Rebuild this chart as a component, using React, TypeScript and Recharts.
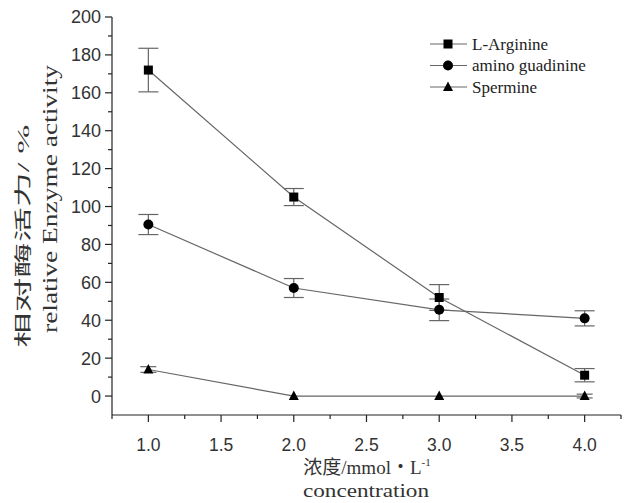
import { LineChart, Line, XAxis, YAxis, ErrorBar, Legend } from 'recharts'

// 浓度 (mmol/L) 和三组相对酶活力 (%)
const concentrations = [1.0, 2.0, 3.0, 4.0]
const arginine = [172, 105, 52, 11]
const arginineErr = [11.5, 4.5, 6.8, 3.5]
const guadinine = [90.5, 57, 45.5, 41]
const guadinineErr = [5.3, 5, 5.7, 4]
const spermine = [14, 0, 0, 0]
const spermineErr = [1.5, 0, 0, 1]

const xTicks = [0.75, 1, 1.25, 1.5, 1.75, 2, 2.25, 2.5, 2.75, 3, 3.25, 3.5, 3.75, 4, 4.25]
const yTicks = [0, 10, 20, 30, 40, 50, 60, 70, 80, 90, 100, 110, 120, 130, 140, 150, 160, 170, 180, 190, 200]

const seriesNames = ['L-Arginine', 'amino guadinine', 'Spermine']

const data = concentrations.map((c, i) => ({
  c,
  arg: arginine[i],
  argErr: arginineErr[i],
  gua: guadinine[i],
  guaErr: guadinineErr[i],
  spe: spermine[i],
  speErr: spermineErr[i],
}))

const AXIS = '#222'
const LINE = '#666'
const SANS = '"Liberation Sans", Arial, sans-serif'
const SERIF = '"Liberation Serif", "Times New Roman", "Noto Sans CJK SC", serif'
const TICK = 7
const MINOR = 4
const MARGIN = 4

function Marker({ cx, cy, kind }: { cx: number; cy: number; kind: string }) {
  if (kind === 'square') return <rect x={cx - 4.5} y={cy - 4.5} width={9} height={9} fill="#000" />
  if (kind === 'circle') return <circle cx={cx} cy={cy} r={5} fill="#000" />
  return <polygon points={`${cx},${cy - 5.5} ${cx + 5},${cy + 4} ${cx - 5},${cy + 4}`} fill="#000" />
}

const dotOf = (kind: string) => (p: any) =>
  p.cx == null ? <g key={p.key} /> : <Marker key={p.key} cx={p.cx} cy={p.cy} kind={kind} />

function XTick(props: any) {
  const { x, y, payload } = props
  const v = payload.value
  const axisY = y - TICK - MARGIN
  const major = v >= 1 && v <= 4 && Math.abs(v * 2 - Math.round(v * 2)) < 1e-6
  return (
    <g>
      <line x1={x} x2={x} y1={axisY} y2={axisY + (major ? TICK : MINOR)} stroke={AXIS} strokeWidth={1.2} />
      {major && (
        <text x={x} y={axisY + 36} textAnchor="middle" fontFamily={SANS} fontSize={17.5} fill="#333">
          {v.toFixed(1)}
        </text>
      )}
    </g>
  )
}

function YTick(props: any) {
  const { x, y, payload } = props
  const v = payload.value
  const axisX = x + TICK + MARGIN
  const major = v % 20 === 0
  return (
    <g>
      <line x1={axisX} x2={axisX - (major ? TICK : MINOR)} y1={y} y2={y} stroke={AXIS} strokeWidth={1.2} />
      {major && (
        <text x={axisX - 11} y={y} dy="0.36em" textAnchor="end" fontFamily={SANS} fontSize={18} fill="#333">
          {v}
        </text>
      )}
    </g>
  )
}

function YTitle() {
  return (
    <g fontFamily={SERIF} fill="#333">
      <text x={23} y={236} transform="rotate(-90 23 236)" textAnchor="middle" dy="0.35em" fontSize={17}
        textLength={223} lengthAdjust="spacingAndGlyphs">
        相对酶活力/ %
      </text>
      <text x={50} y={199} transform="rotate(-90 50 199)" textAnchor="middle" dy="0.35em" fontSize={20}
        textLength={268} lengthAdjust="spacingAndGlyphs">
        relative Enzyme activity
      </text>
    </g>
  )
}

function XTitle() {
  return (
    <g fontFamily={SERIF} fill="#333" textAnchor="middle">
      <text x={367} y={474} fontSize={19}>
        浓度/mmol・L<tspan dy={-8} fontSize={11}>-1</tspan>
      </text>
      <text x={366} y={497} fontSize={19} textLength={126} lengthAdjust="spacingAndGlyphs">
        concentration
      </text>
    </g>
  )
}

function LegendBox() {
  const kinds = ['square', 'circle', 'triangle']
  return (
    <svg width={200} height={70}>
      {seriesNames.map((name, i) => {
        const cy = 10 + i * 21.5
        return (
          <g key={name}>
            <line x1={3} x2={40} y1={cy} y2={cy} stroke={LINE} strokeWidth={1.2} />
            <Marker cx={21} cy={cy} kind={kinds[i]} />
            <text x={45} y={cy} dy="0.33em" fontFamily={SERIF} fontSize={17} fill="#222">
              {name}
            </text>
          </g>
        )
      })}
    </svg>
  )
}

export default function App() {
  return (
    <div style={{ position: 'absolute', left: 0, top: 0, width: 626, height: 503, background: '#fff' }}>
      <LineChart width={626} height={503} data={data} margin={{ top: 17, right: 5, left: 0, bottom: 0 }}>
        <XAxis
          dataKey="c"
          type="number"
          domain={[0.75, 4.25]}
          ticks={xTicks}
          interval={0}
          height={88}
          tickSize={TICK}
          tickMargin={MARGIN}
          tickLine={false}
          tick={<XTick />}
          axisLine={{ stroke: AXIS, strokeWidth: 1.2 }}
          label={<XTitle />}
        />
        <YAxis
          type="number"
          domain={[-10, 200]}
          ticks={yTicks}
          interval={0}
          width={112}
          tickSize={TICK}
          tickMargin={MARGIN}
          tickLine={false}
          tick={<YTick />}
          axisLine={{ stroke: AXIS, strokeWidth: 1.2 }}
          label={<YTitle />}
        />
        <Legend
          content={<LegendBox />}
          layout="vertical"
          align="center"
          verticalAlign="middle"
          wrapperStyle={{ left: 427, top: 34, width: 200 }}
        />
        <Line dataKey="arg" name={seriesNames[0]} stroke={LINE} strokeWidth={1.2} dot={dotOf('square')} isAnimationActive={false}>
          <ErrorBar dataKey="argErr" width={10} stroke={LINE} strokeWidth={1.2} direction="y" />
        </Line>
        <Line dataKey="gua" name={seriesNames[1]} stroke={LINE} strokeWidth={1.2} dot={dotOf('circle')} isAnimationActive={false}>
          <ErrorBar dataKey="guaErr" width={10} stroke={LINE} strokeWidth={1.2} direction="y" />
        </Line>
        <Line dataKey="spe" name={seriesNames[2]} stroke={LINE} strokeWidth={1.2} dot={dotOf('triangle')} isAnimationActive={false}>
          <ErrorBar dataKey="speErr" width={8} stroke={LINE} strokeWidth={1.2} direction="y" />
        </Line>
      </LineChart>
    </div>
  )
}
